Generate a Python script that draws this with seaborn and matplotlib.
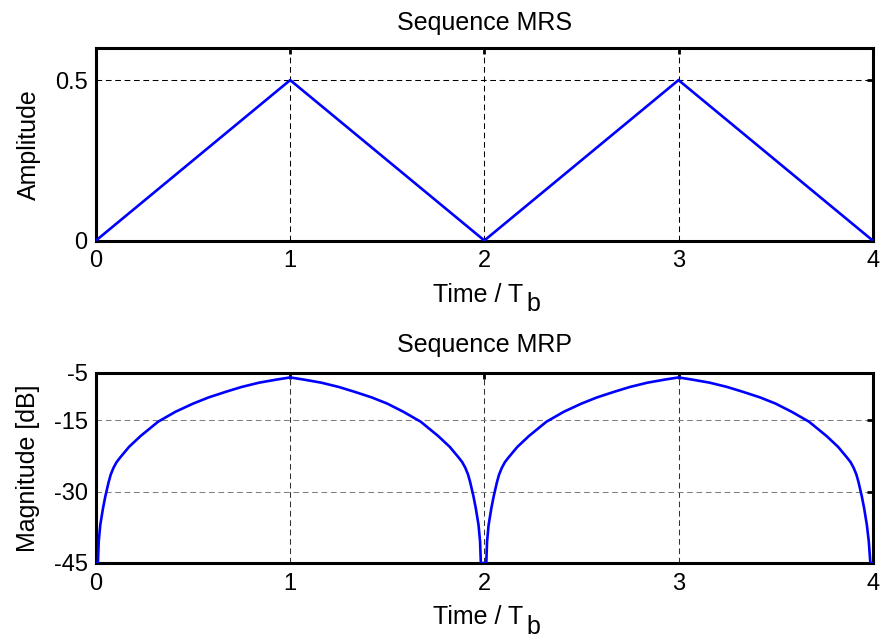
import numpy as np
import pandas as pd
import matplotlib
matplotlib.use("Agg")
import matplotlib.pyplot as plt
import seaborn as sns

# top panel: sequence MRS (amplitude vs time / Tb)
mrs_time = [0, 1, 2, 3, 4]
mrs_amp = [0, 0.5, 0, 0.5, 0]

# bottom panel: sequence MRP (magnitude in dB)
mrp_time = [0.0, 0.010, 0.014, 0.022, 0.036, 0.048, 0.065, 0.076, 0.09, 0.106, 0.125, 0.17,
            0.23, 0.32, 0.41, 0.50, 0.58, 0.67, 0.75, 0.84, 0.93, 1.0,
            1.07, 1.16, 1.25, 1.33, 1.42, 1.50, 1.582, 1.672, 1.762, 1.822,
            1.867, 1.886, 1.902, 1.916, 1.927, 1.944, 1.956, 1.970, 1.978, 1.982,
            2.010, 2.014, 2.022, 2.036, 2.048, 2.065, 2.076, 2.09, 2.106, 2.125, 2.17,
            2.23, 2.32, 2.41, 2.50, 2.58, 2.67, 2.75, 2.84, 2.93, 3.0,
            3.07, 3.16, 3.25, 3.33, 3.42, 3.50, 3.582, 3.672, 3.762, 3.822,
            3.867, 3.886, 3.902, 3.916, 3.927, 3.944, 3.956, 3.970, 3.980, 3.988, 4.0]
mrp_db = [-45, -45, -40.5, -37, -33.5, -31, -28, -26.4, -25, -23.8, -22.8, -20.6,
          -18.3, -15.3, -13.2, -11.5, -10.2, -9.0, -8.0, -7.1, -6.45, -6.0,
          -6.45, -7.1, -8.0, -9.0, -10.2, -11.5, -13.2, -15.3, -18.3, -20.6,
          -22.8, -23.8, -25, -26.4, -28, -31, -33.5, -37, -40.5, -45,
          -45, -40.5, -37, -33.5, -31, -28, -26.4, -25, -23.8, -22.8, -20.6,
          -18.3, -15.3, -13.2, -11.5, -10.2, -9.0, -8.0, -7.1, -6.45, -6.0,
          -6.45, -7.1, -8.0, -9.0, -10.2, -11.5, -13.2, -15.3, -18.3, -20.6,
          -22.8, -23.8, -25, -26.4, -28, -31, -33.5, -37, -40.5, -45, -45]

x_ticks = [0, 1, 2, 3, 4]
mrs_yticks = [0, 0.5]
mrp_yticks = [-45, -30, -15, -5]

sns.set_theme(style="white")
plt.rcParams['font.family'] = ['Liberation Sans', 'DejaVu Sans']
plt.rcParams['text.color'] = 'black'
plt.rcParams['axes.labelcolor'] = 'black'

fs_tick = 17
fs_lab = 18
fig = plt.figure(figsize=(8.84, 6.41), dpi=100)
ax1 = fig.add_axes([0.1086, 0.6248, 0.8786, 0.3003])
ax2 = fig.add_axes([0.1086, 0.1217, 0.8786, 0.2969])

df1 = pd.DataFrame({'t': mrs_time, 'a': mrs_amp})
df2 = pd.DataFrame({'t': mrp_time, 'm': mrp_db})

sns.lineplot(data=df1, x='t', y='a', ax=ax1, color='#0000ff', lw=1.9, zorder=3)
sns.lineplot(data=df2, x='t', y='m', ax=ax2, color='#0000ff', lw=1.9, zorder=3)

ax1.set_ylim(0, 0.6)
ax2.set_ylim(-45, -5)

for ax, yt in [(ax1, mrs_yticks), (ax2, mrp_yticks)]:
    ax.set_xlim(0, 4)
    ax.set_xticks(x_ticks)
    ax.set_yticks(yt)
    ax.set_yticklabels([f"{v:g}" for v in yt])
    ax.tick_params(direction='in', length=4, width=2, top=True, right=True,
                   labelsize=fs_tick, pad=6, colors='black')
    ax.tick_params(axis='x', pad=7)
    for s in ax.spines.values():
        s.set_linewidth(2.2)
        s.set_color('black')
    ax.set_xlabel('')
    # "Time / T" with a full size, lowered "b" like the original
    ax.annotate('Time / T', xy=(0.5, 0), xycoords='axes fraction',
                xytext=(28, -44), textcoords='offset points',
                ha='right', va='baseline', fontsize=fs_lab, annotation_clip=False)
    ax.annotate('b', xy=(0.5, 0), xycoords='axes fraction',
                xytext=(30.5, -51), textcoords='offset points',
                ha='left', va='baseline', fontsize=fs_lab, annotation_clip=False)

# grid lines
dash = (0, (5.5, 3.5))
ax1.grid(True, color='black', lw=0.75, ls=dash)
ax2.xaxis.grid(True, color='#333333', lw=0.75, ls=dash)
ax2.yaxis.grid(True, color='#808080', lw=0.75, ls=dash)

ax1.set_ylabel('Amplitude', fontsize=fs_lab, labelpad=10)
ax2.set_ylabel('Magnitude [dB]', fontsize=fs_lab, labelpad=10)
ax1.set_title('Sequence MRS', fontsize=fs_lab, pad=13)
ax2.set_title('Sequence MRP', fontsize=fs_lab, pad=15)

fig.savefig('out.png', dpi=100, facecolor='white')
